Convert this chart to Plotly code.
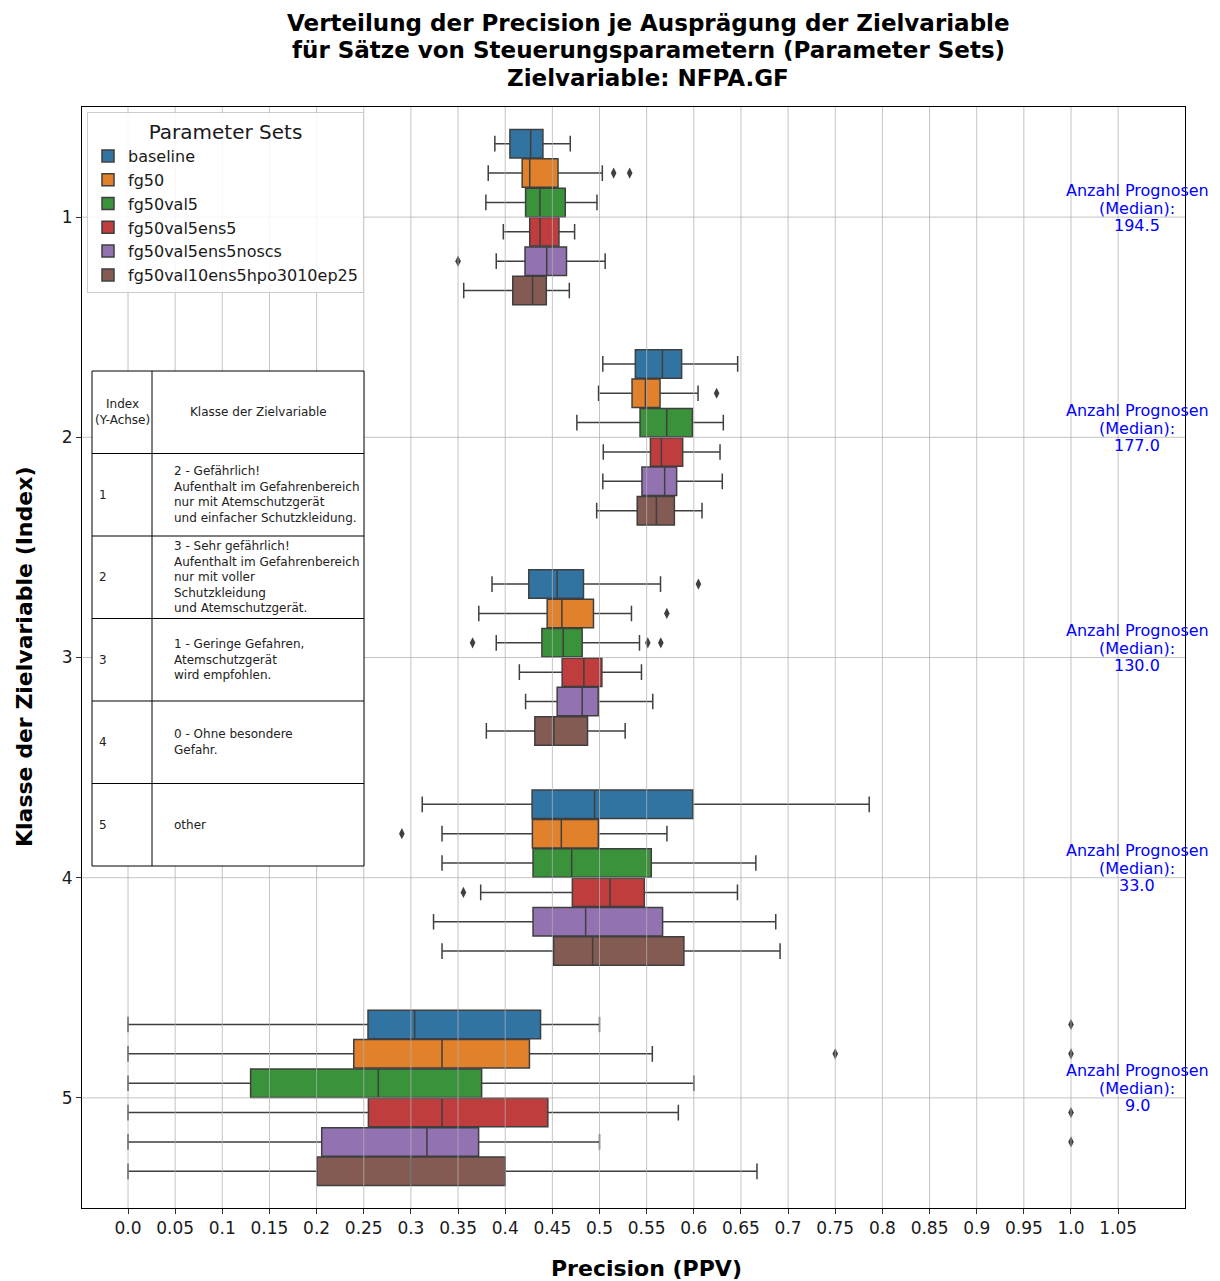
import plotly.graph_objects as go

# ---------------- data ----------------
categories = [1, 2, 3, 4, 5]
category_labels = ["1", "2", "3", "4", "5"]
param_sets = ["baseline", "fg50", "fg50val5", "fg50val5ens5", "fg50val5ens5noscs", "fg50val10ens5hpo3010ep25"]
colors = ["#3274a1", "#e1812c", "#3a923a", "#c03d3e", "#9372b2", "#845b53"]

# per parameter set: values for categories 1..5
lower_fence = [
    [0.389, 0.5035, 0.386, 0.312, 0.0],
    [0.382, 0.499, 0.372, 0.333, 0.0],
    [0.3795, 0.476, 0.3905, 0.333, 0.0],
    [0.398, 0.504, 0.415, 0.374, 0.0],
    [0.3905, 0.5035, 0.4216, 0.324, 0.0],
    [0.356, 0.497, 0.380, 0.333, 0.0],
]
q1 = [
    [0.405, 0.538, 0.425, 0.4285, 0.2545],
    [0.418, 0.5345, 0.4445, 0.4288, 0.2394],
    [0.4216, 0.543, 0.4389, 0.4295, 0.130],
    [0.426, 0.554, 0.4604, 0.4712, 0.2549],
    [0.421, 0.545, 0.4551, 0.4295, 0.2054],
    [0.408, 0.540, 0.4314, 0.4514, 0.2005],
]
median = [
    [0.427, 0.5667, 0.4551, 0.4948, 0.304],
    [0.426, 0.5487, 0.4601, 0.4595, 0.333],
    [0.4368, 0.5713, 0.4615, 0.4705, 0.2654],
    [0.437, 0.5656, 0.4834, 0.5111, 0.333],
    [0.444, 0.5691, 0.4816, 0.4853, 0.317],
    [0.429, 0.5603, 0.4516, 0.4927, 0.300],
]
q3 = [
    [0.440, 0.5871, 0.4830, 0.599, 0.4375],
    [0.456, 0.5642, 0.4936, 0.4987, 0.4257],
    [0.4637, 0.5985, 0.4816, 0.5549, 0.375],
    [0.457, 0.5882, 0.5025, 0.5475, 0.4452],
    [0.465, 0.5818, 0.4986, 0.5669, 0.3718],
    [0.4436, 0.5794, 0.4873, 0.5895, 0.400],
]
upper_fence = [
    [0.469, 0.6465, 0.5647, 0.786, 0.500],
    [0.503, 0.6045, 0.5339, 0.5715, 0.556],
    [0.4973, 0.6313, 0.5424, 0.6658, 0.600],
    [0.4736, 0.6278, 0.5445, 0.6463, 0.5836],
    [0.506, 0.6302, 0.5565, 0.6869, 0.500],
    [0.468, 0.6087, 0.5272, 0.6915, 0.667],
]
# outliers: parameter-set index, category, value
outlier_set = [1, 1, 4, 1, 0, 1, 2, 2, 2, 1, 3, 0, 1, 1, 3, 4]
outlier_cat = [1, 1, 1, 2, 3, 3, 3, 3, 3, 4, 4, 5, 5, 5, 5, 5]
outlier_val = [0.515, 0.532, 0.350, 0.6242, 0.6049, 0.5714, 0.3654, 0.5512, 0.565,
               0.2904, 0.3557, 1.0, 0.75, 1.0, 1.0, 1.0]

median_counts = [194.5, 177.0, 130.0, 33.0, 9.0]

x_tickvals = [round(i * 0.05, 2) for i in range(22)]
x_ticktext = ["0.0", "0.05", "0.1", "0.15", "0.2", "0.25", "0.3", "0.35", "0.4", "0.45", "0.5",
              "0.55", "0.6", "0.65", "0.7", "0.75", "0.8", "0.85", "0.9", "0.95", "1.0", "1.05"]

title_lines = ["Verteilung der Precision je Ausprägung der Zielvariable",
               "für Sätze von Steuerungsparametern (Parameter Sets)",
               "Zielvariable: NFPA.GF"]

table_header = ["Index<br>(Y-Achse)", "Klasse der Zielvariable"]
table_index = ["1", "2", "3", "4", "5"]
table_class = [
    "2 - Gefährlich!<br>Aufenthalt im Gefahrenbereich<br>nur mit Atemschutzgerät<br>und einfacher Schutzkleidung.",
    "3 - Sehr gefährlich!<br>Aufenthalt im Gefahrenbereich<br>nur mit voller<br>Schutzkleidung<br>und Atemschutzgerät.",
    "1 - Geringe Gefahren,<br>Atemschutzgerät<br>wird empfohlen.",
    "0 - Ohne besondere<br>Gefahr.",
    "other",
]

# ---------------- figure ----------------
FONT = "DejaVu Sans"
n = len(param_sets)
group_w = 0.8
slot = group_w / n
box_w = slot * 0.97
LINE = "#3f3f3f"

def offset(i):
    return (i - (n - 1) / 2) * slot

fig = go.Figure()
for i, name in enumerate(param_sets):
    fig.add_trace(go.Box(
        name=name,
        y=[c + offset(i) for c in categories],
        q1=q1[i], median=median[i], q3=q3[i],
        lowerfence=lower_fence[i], upperfence=upper_fence[i],
        orientation="h",
        width=box_w,
        whiskerwidth=0.55,
        fillcolor=colors[i],
        line=dict(color=LINE, width=1.5),
        boxpoints=False,
    ))

fig.add_trace(go.Scatter(
    x=outlier_val,
    y=[c + offset(s) for s, c in zip(outlier_set, outlier_cat)],
    mode="markers",
    marker=dict(symbol="diamond-tall", size=8, color=LINE),
    showlegend=False,
    hoverinfo="x",
))

# page body has an 8px margin: the figure is drawn 8px in from the top-left corner
OFF = 8
W, H = 1220 - OFF, 1281 - OFF
# plot-area edges in reference (window) pixels
PL, PR, PT, PB = 82, 1185, 107, 1208
def px_x(p):
    return (p - PL) / (PR - PL)
def px_y(p):
    return (PB - p) / (PB - PT)

shapes = []
grid_col = "rgba(176,176,176,0.75)"
for v in x_tickvals:
    shapes.append(dict(type="line", xref="x", yref="paper", x0=v, x1=v, y0=0, y1=1,
                       line=dict(color=grid_col, width=1), layer="above"))
for c in categories:
    shapes.append(dict(type="line", xref="paper", yref="y", x0=0, x1=1, y0=c, y1=c,
                       line=dict(color=grid_col, width=1), layer="above"))

tx0, txc, tx1 = 92, 152, 364
ty0, row_h = 371, 82.5
rows = 1 + len(table_index)
shapes.append(dict(type="rect", xref="paper", yref="paper",
                   x0=px_x(tx0), x1=px_x(tx1), y0=px_y(ty0 + rows * row_h), y1=px_y(ty0),
                   fillcolor="white", line=dict(color="black", width=1), layer="above"))
shapes.append(dict(type="line", xref="paper", yref="paper",
                   x0=px_x(txc), x1=px_x(txc), y0=px_y(ty0 + rows * row_h), y1=px_y(ty0),
                   line=dict(color="black", width=1), layer="above"))
for r in range(1, rows):
    shapes.append(dict(type="line", xref="paper", yref="paper",
                       x0=px_x(tx0), x1=px_x(tx1), y0=px_y(ty0 + r * row_h), y1=px_y(ty0 + r * row_h),
                       line=dict(color="black", width=1), layer="above"))

annotations = []
TCOL = "#222222"
annotations.append(dict(xref="paper", yref="paper", x=px_x((tx0 + txc) / 2), y=px_y(ty0 + row_h / 2),
                        text=table_header[0], showarrow=False, xanchor="center", yanchor="middle",
                        font=dict(family=FONT, size=12, color=TCOL)))
annotations.append(dict(xref="paper", yref="paper", x=px_x((txc + tx1) / 2), y=px_y(ty0 + row_h / 2),
                        text=table_header[1], showarrow=False, xanchor="center", yanchor="middle",
                        font=dict(family=FONT, size=12, color=TCOL)))
for r, (idx, txt) in enumerate(zip(table_index, table_class), start=1):
    yc = px_y(ty0 + r * row_h + row_h / 2)
    annotations.append(dict(xref="paper", yref="paper", x=px_x(97), y=yc, text=idx, showarrow=False,
                            xanchor="left", yanchor="middle", font=dict(family=FONT, size=12, color=TCOL)))
    annotations.append(dict(xref="paper", yref="paper", x=px_x(172), y=yc, text=txt, showarrow=False,
                            xanchor="left", yanchor="middle", align="left",
                            font=dict(family=FONT, size=12, color=TCOL)))

# "Anzahl Prognosen (Median)" labels, one annotation per line for tight spacing
for c, cnt in zip(categories, median_counts):
    lines = ["Anzahl Prognosen", "(Median):", f"{cnt:.1f}"]
    for ln, shift in zip(lines, [27, 9, -8]):
        annotations.append(dict(xref="x", yref="y", x=1.07, y=c, yshift=shift, text=ln,
                                showarrow=False, xanchor="center", yanchor="middle",
                                font=dict(family=FONT, size=16, color="blue")))

# title (one annotation per line) and axis titles
for ln, ypx in zip(title_lines, [23, 50, 78]):
    annotations.append(dict(xref="paper", yref="paper", x=px_x(648), y=px_y(ypx),
                            text=f"<b>{ln}</b>", showarrow=False, xanchor="center", yanchor="middle",
                            borderpad=0, font=dict(family=FONT, size=23, color="black")))
annotations.append(dict(xref="paper", yref="paper", x=px_x(646), y=px_y(1268), text="<b>Precision (PPV)</b>",
                        showarrow=False, xanchor="center", yanchor="middle",
                        font=dict(family=FONT, size=22, color="black")))
annotations.append(dict(xref="paper", yref="paper", x=px_x(24), y=px_y(657),
                        text="<b>Klasse der Zielvariable (Index)</b>", textangle=-90,
                        showarrow=False, xanchor="center", yanchor="middle",
                        font=dict(family=FONT, size=22, color="black")))

fig.update_layout(
    width=W, height=H,
    margin=dict(l=PL - OFF, r=W - (PR - OFF), t=PT - OFF, b=H - (PB - OFF)),
    paper_bgcolor="white", plot_bgcolor="white",
    font=dict(family=FONT, size=17, color="#1a1a1a"),
    boxmode="overlay",
    showlegend=True,
    legend=dict(
        x=px_x(87), y=px_y(112), xanchor="left", yanchor="top",
        bgcolor="rgba(255,255,255,0.85)", bordercolor="#cccccc", borderwidth=1,
        font=dict(family=FONT, size=16, color="#1a1a1a"),
        title=dict(text="Parameter Sets", side="top center", font=dict(family=FONT, size=20)),
        tracegroupgap=0, itemwidth=30,
    ),
    xaxis=dict(
        range=[-0.0488, 1.1209], tickvals=x_tickvals, ticktext=x_ticktext,
        showgrid=False, zeroline=False, showline=True, mirror=True, linecolor="black", linewidth=1,
        ticks="outside", ticklen=5, tickcolor="#333333",
        tickfont=dict(family=FONT, size=17, color="#1a1a1a"),
    ),
    yaxis=dict(
        range=[5.5, 0.5], tickvals=categories, ticktext=category_labels,
        showgrid=False, zeroline=False, showline=True, mirror=True, linecolor="black", linewidth=1,
        ticks="outside", ticklen=5, tickcolor="#333333",
        tickfont=dict(family=FONT, size=17, color="#1a1a1a"),
    ),
    shapes=shapes,
    annotations=annotations,
)

fig.write_html("out.html")
